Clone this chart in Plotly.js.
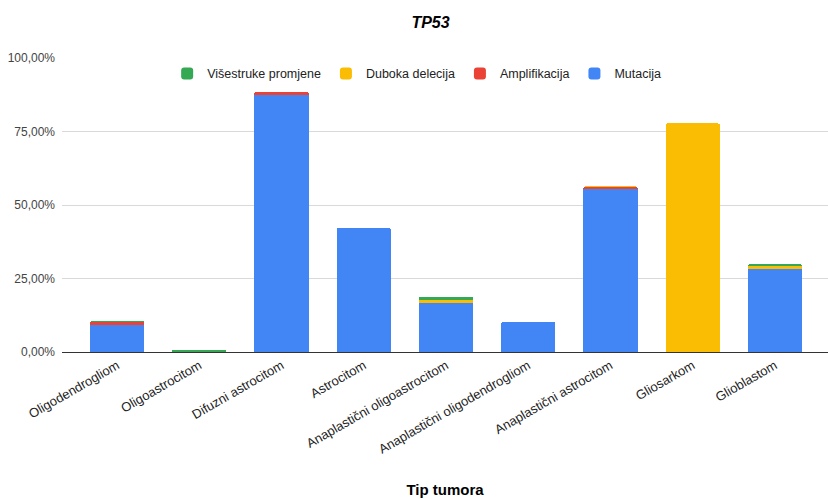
<!DOCTYPE html>
<html><head><meta charset="utf-8">
<script src="https://cdn.plot.ly/plotly-3.0.1.min.js"></script>
<style>html,body{margin:0;padding:0;background:#fff}#c{width:828px;height:499px}</style>
</head><body><div id="c"></div>
<script>
const categories = ["Oligodendrogliom","Oligoastrocitom","Difuzni astrocitom","Astrocitom","Anaplastični oligoastrocitom","Anaplastični oligodendrogliom","Anaplastični astrocitom","Gliosarkom","Glioblastom"];
const mutacija      = [9.2, 0, 87.3, 42.2, 16.8, 10.2, 55.4, 0, 28.3];
const amplifikacija = [1.0, 0, 1.2, 0, 0, 0, 0.6, 0, 0];
const dubokaDelecija= [0, 0, 0, 0, 0.9, 0, 0.3, 77.78, 1.0];
const visestruke    = [0.4, 0.6, 0, 0, 1.1, 0, 0.3, 0, 0.5];
const yTickVals = [0, 25, 50, 75, 100];
const yTickText = ["0,00%", "25,00%", "50,00%", "75,00%", "100,00%"];

const font = "Liberation Sans, Arial, sans-serif";
const mk = (name, y, color) => ({type:"bar", name, x:categories, y, marker:{color}, hoverinfo:"skip"});
const data = [
  mk("Mutacija", mutacija, "#4285F4"),
  mk("Amplifikacija", amplifikacija, "#EA4335"),
  mk("Duboka delecija", dubokaDelecija, "#FBBC04"),
  mk("Višestruke promjene", visestruke, "#34A853")
];
const layout = {
  width:828, height:499,
  margin:{l:62, r:0, t:58, b:147},
  barmode:"stack", bargap:0.34, barcornerradius:2,
  paper_bgcolor:"#fff", plot_bgcolor:"#fff",
  font:{family:font, size:12, color:"#444"},
  title:{text:"<b><i>TP53</i></b>", x:0.52, xanchor:"center", y:0.955, yanchor:"middle", font:{family:font, size:16, color:"#000"}},
  legend:{orientation:"h", traceorder:"reversed", x:0.463, xanchor:"center", y:0.946, yanchor:"middle", font:{family:font, size:12.5, color:"#222"}, itemwidth:14, bgcolor:"rgba(0,0,0,0)"},
  xaxis:{type:"category", range:[-0.67, 8.645], tickangle:-30, tickfont:{family:font, size:13, color:"#222"}, showgrid:false, showline:true, linecolor:"#333", linewidth:1, ticks:"", automargin:false,
    title:{text:"<b>Tip tumora</b>", font:{family:font, size:15, color:"#000"}, standoff:28}},
  yaxis:{range:[0,100], tickvals:yTickVals, ticktext:yTickText, tickfont:{family:font, size:12, color:"#444"}, gridcolor:"#d9d9d9", zeroline:false, showline:false, ticks:"", ticklabelstandoff:6, automargin:false}
};
Plotly.newPlot("c", data, layout, {displayModeBar:false, staticPlot:true});
</script></body></html>
